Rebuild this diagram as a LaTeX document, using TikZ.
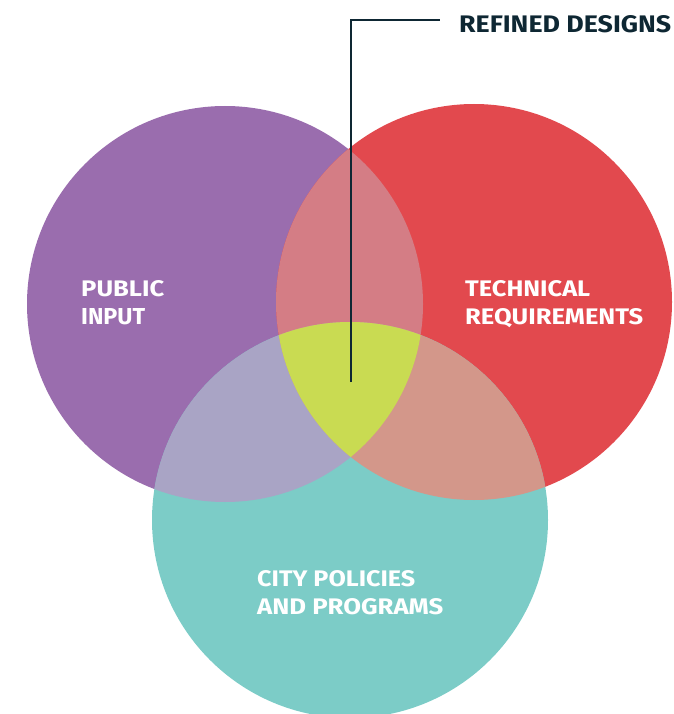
\documentclass[tikz,border=0pt]{standalone}
\usepackage{fontspec}
\setmainfont{Fira Sans}
\usepackage{graphicx}
\definecolor{cpurple}{HTML}{9A6DAE}
\definecolor{cred}{HTML}{E2494E}
\definecolor{cteal}{HTML}{7CCCC7}
\definecolor{cpr}{HTML}{D47D85}
\definecolor{cpt}{HTML}{A9A4C5}
\definecolor{crt}{HTML}{D3978A}
\definecolor{cmid}{HTML}{C9DB52}
\definecolor{cline}{HTML}{0E2733}
\newcommand{\fitlab}[3]{\resizebox{#1pt}{#2pt}{\bfseries #3}}
\begin{document}
\begin{tikzpicture}[x=1pt,y=-1pt,
  lab/.style={inner sep=0pt,anchor=base west,text=white},
  lead/.style={draw=cline,line width=2.6pt}]
\useasboundingbox (0,0) rectangle (673,714);
\coordinate (P) at (225,304);
\coordinate (R) at (474,302);
\coordinate (T) at (350,520);
\def\rr{198}
% base circles
\fill[cpurple] (P) circle (\rr);
\fill[cred] (R) circle (\rr);
\fill[cteal] (T) circle (\rr);
% pairwise overlaps
\begin{scope}
  \clip (P) circle (\rr);
  \fill[cpr] (R) circle (\rr);
  \fill[cpt] (T) circle (\rr);
\end{scope}
\begin{scope}
  \clip (R) circle (\rr);
  \fill[crt] (T) circle (\rr);
\end{scope}
% triple overlap
\begin{scope}
  \clip (P) circle (\rr);
  \clip (R) circle (\rr);
  \fill[cmid] (T) circle (\rr);
\end{scope}
% labels
\node[lab] (pub1) at (81,296) {\fitlab{83}{16}{PUBLIC}};
\node[lab] (pub2) at (81,324) {\fitlab{64}{16}{INPUT}};
\node[lab] (tec1) at (465,296) {\fitlab{125}{16}{TECHNICAL}};
\node[lab] (tec2) at (465,324) {\fitlab{178}{16}{REQUIREMENTS}};
\node[lab] (cit1) at (257,586) {\fitlab{158}{16}{CITY POLICIES}};
\node[lab] (cit2) at (257,614) {\fitlab{186}{16}{AND PROGRAMS}};
\node[lab,text=cline] (ref) at (459,33) {\fitlab{212}{17}{REFINED DESIGNS}};
% leader
\coordinate (mid) at (351,382);
\coordinate (corner) at (351,20);
\coordinate (lend) at (440,20);
\draw[lead] (mid) -- (corner) -- (lend);
\end{tikzpicture}
\end{document}
